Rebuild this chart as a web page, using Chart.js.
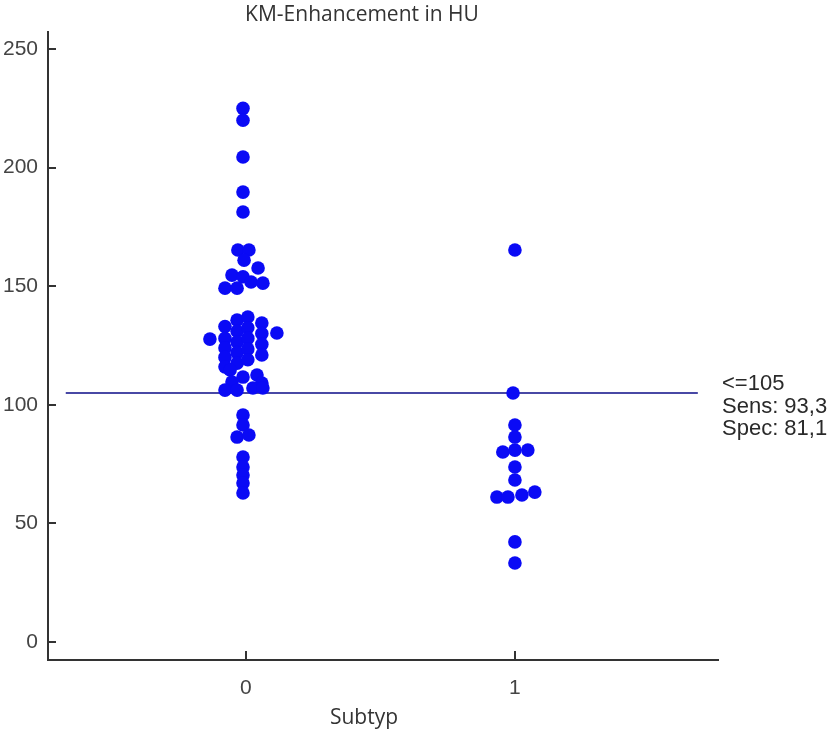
<!DOCTYPE html>
<html>
<head>
<meta charset="utf-8">
<script src="https://cdn.jsdelivr.net/npm/chart.js@4/dist/chart.umd.min.js"></script>
<style>
  html, body { margin: 0; padding: 0; background: #fff; }
  #wrap { position: relative; width: 828px; height: 731px; }
</style>
</head>
<body>
<div id="wrap"><canvas id="myChart" width="828" height="731"></canvas></div>
<script>
// values (HU), with small horizontal jitter in category units
const group0Values = [
  225, 220, 204.5, 189.7, 181.3,
  165.3, 165.3, 161, 157.7, 154.7, 154, 149.2, 149.2, 151.8, 151.3,
  127.7, 130.3,
  133, 128, 124, 120, 116,
  135.7, 131, 126.5, 122, 117.5,
  137, 132.5, 128, 123.5, 119,
  134.5, 130, 125.5, 121,
  114.7, 111.7, 112.6, 109.6, 109.2, 106.2, 106.2, 107.1, 107.1,
  95.7, 91.5, 86.4, 87.3, 78, 73.8, 70.4, 67, 62.8
];
const group0Jitter = [
  -0.011, -0.011, -0.011, -0.011, -0.011,
  -0.030, 0.011, -0.007, 0.045, -0.052, -0.011, -0.078, -0.033, 0.019, 0.063,
  -0.134, 0.115,
  -0.078, -0.078, -0.078, -0.078, -0.078,
  -0.033, -0.033, -0.033, -0.033, -0.033,
  0.007, 0.007, 0.007, 0.007, 0.007,
  0.059, 0.059, 0.059, 0.059,
  -0.059, -0.011, 0.041, -0.052, 0.059, -0.078, -0.033, 0.026, 0.063,
  -0.011, -0.011, -0.033, 0.011, -0.011, -0.011, -0.011, -0.011, -0.011
];
const group1Values = [165.3, 105, 91.5, 86.4, 80.1, 80.9, 80.9, 73.8, 68.3, 61.1, 61.1, 62, 63.2, 42.2, 33.3];
const group1Jitter = [0, -0.007, 0, 0, -0.045, 0, 0.048, 0, 0, -0.067, -0.026, 0.026, 0.074, 0, 0];

const categories = [0, 1];
const yTicks = [0, 50, 100, 150, 200, 250];
const cutoffValue = 105;
const cutoffSpan = [-0.67, 1.68];
const cutoffLabels = ['<=105', 'Sens: 93,3', 'Spec: 81,1'];
const chartTitle = 'KM-Enhancement in HU';
const xTitle = 'Subtyp';

const blue = 'rgb(10, 10, 245)';
const axisColor = '#333';

function toPoints(cat, values, jitter) {
  return values.map((v, i) => ({ x: cat + jitter[i], y: v }));
}

// inside tick marks + free text (title, axis title, cutoff legend)
const extras = {
  id: 'extras',
  afterDraw(chart) {
    const ctx = chart.ctx;
    const { x, y } = chart.scales;
    ctx.save();
    ctx.strokeStyle = axisColor;
    ctx.lineWidth = 2;
    yTicks.forEach((t) => {
      const py = Math.round(y.getPixelForValue(t));
      ctx.beginPath();
      ctx.moveTo(x.left, py);
      ctx.lineTo(x.left + 8, py);
      ctx.stroke();
    });
    categories.forEach((c) => {
      const px = Math.round(x.getPixelForValue(c));
      ctx.beginPath();
      ctx.moveTo(px, y.bottom);
      ctx.lineTo(px, y.bottom - 9);
      ctx.stroke();
    });

    ctx.fillStyle = '#333';
    ctx.textAlign = 'center';
    ctx.textBaseline = 'middle';
    ctx.font = '21px "Open Sans"';
    ctx.fillText(chartTitle, 362, 15);
    ctx.fillText(xTitle, 364, 718);

    ctx.textAlign = 'left';
    ctx.fillStyle = '#2a2a2a';
    ctx.font = '22px "Liberation Sans", Arial';
    cutoffLabels.forEach((t, i) => {
      ctx.fillText(t, 722, y.getPixelForValue(cutoffValue) - 9 + i * 22.5);
    });
    ctx.restore();
  },
};

const data = {
  datasets: [
    {
      label: 'cutoff',
      data: cutoffSpan.map((v) => ({ x: v, y: cutoffValue })),
      showLine: true,
      borderColor: 'rgb(72, 72, 165)',
      borderWidth: 2,
      pointRadius: 0,
      order: 2,
    },
    {
      label: 'Subtyp 0',
      data: toPoints(categories[0], group0Values, group0Jitter),
      backgroundColor: blue,
      borderColor: blue,
      pointRadius: 6.8,
      borderWidth: 0,
      order: 1,
    },
    {
      label: 'Subtyp 1',
      data: toPoints(categories[1], group1Values, group1Jitter),
      backgroundColor: blue,
      borderColor: blue,
      pointRadius: 6.8,
      borderWidth: 0,
      order: 1,
    },
  ],
};

const config = {
  type: 'scatter',
  data: data,
  options: {
    responsive: false,
    animation: false,
    layout: { padding: { left: 0, right: 110, top: 32, bottom: 0 } },
    plugins: {
      legend: { display: false },
      title: { display: false },
      tooltip: { enabled: false },
    },
    scales: {
      x: {
        type: 'linear',
        min: -0.736,
        max: 1.755,
        grid: { display: false, drawTicks: false, tickLength: 0 },
        border: { display: true, color: axisColor, width: 2 },
        afterBuildTicks: (scale) => { scale.ticks = categories.map((v) => ({ value: v })); },
        afterFit: (scale) => { scale.height = 71; },
        ticks: {
          color: '#444',
          padding: 16,
          maxRotation: 0,
          font: { family: '"Liberation Sans", Arial', size: 21 },
        },
      },
      y: {
        type: 'linear',
        min: -7.6,
        max: 257.2,
        grid: { display: false, drawTicks: false, tickLength: 0 },
        border: { display: true, color: axisColor, width: 2 },
        afterBuildTicks: (scale) => { scale.ticks = yTicks.map((v) => ({ value: v })); },
        afterFit: (scale) => { scale.width = 48; },
        ticks: {
          color: '#444',
          padding: 10,
          font: { family: '"Liberation Sans", Arial', size: 21 },
        },
      },
    },
  },
  plugins: [extras],
};

const myChart = new Chart(document.getElementById('myChart').getContext('2d'), config);
</script>
</body>
</html>
